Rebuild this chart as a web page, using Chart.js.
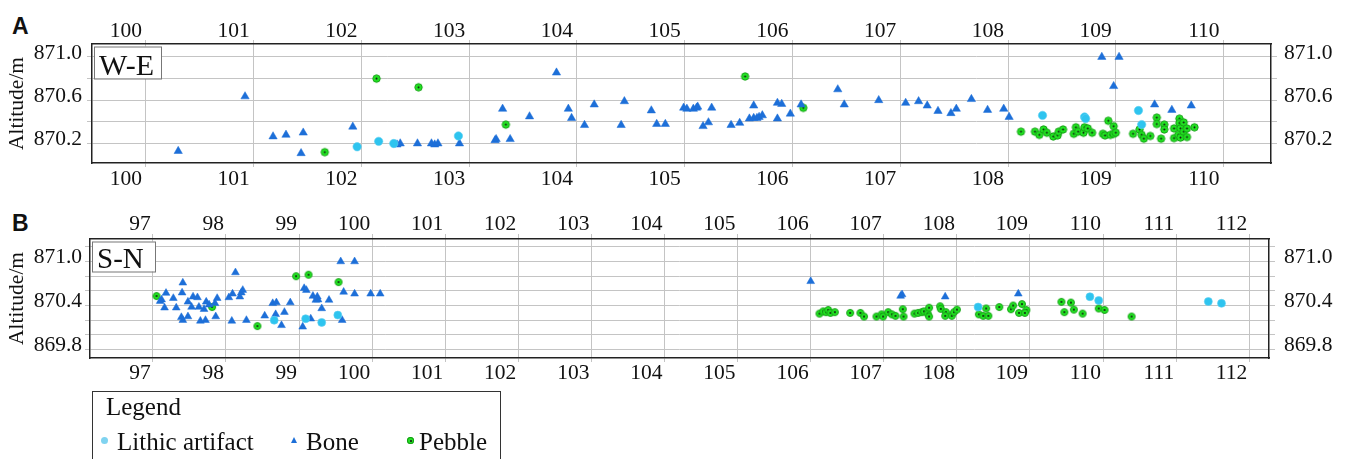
<!DOCTYPE html>
<html>
<head>
<meta charset="utf-8">
<script src="https://cdn.jsdelivr.net/npm/chart.js@4/dist/chart.umd.min.js"></script>
<style>
  body { margin: 0; background: #fff; width: 1347px; height: 459px; overflow: hidden; position: relative; }
  canvas { position: absolute; left: 0; }
  .tag { position: absolute; font: bold 23px "Liberation Sans", Arial, sans-serif; color: #111; line-height: 1; }
  #legend { position: absolute; left: 92px; top: 391px; width: 409px; height: 90px; border: 1px solid #333; box-sizing: border-box; font: 25px "Liberation Serif", serif; color: #111; }
  #legend span { position: absolute; line-height: 1; white-space: nowrap; }
  #legend .dot { width: 7px; height: 7px; border-radius: 50%; }
  #legend .lith { background: #7fd3f0; }
  #legend .peb { background: #26e126; box-shadow: inset 0 0 0 1px #149a14; }
  #legend .peb::after { content: ''; position: absolute; left: 2.5px; top: 2.5px; width: 2px; height: 2px; border-radius: 50%; background: #111; }
  #legend .tri { width: 0; height: 0; border-left: 3.5px solid transparent; border-right: 3.5px solid transparent; border-bottom: 6px solid #1d6fd8; }
</style>
</head>
<body>
<div class="tag" style="left:12px;top:15px">A</div>
<div class="tag" style="left:12px;top:212px">B</div>
<canvas id="we" width="1347" height="200" style="top:0"></canvas>
<canvas id="sn" width="1347" height="200" style="top:200px"></canvas>
<div id="legend">
  <span style="left:13px;top:2px">Legend</span>
  <span class="dot lith" style="left:8px;top:45px"></span>
  <span style="left:24px;top:37px">Lithic artifact</span>
  <span class="tri" style="left:198px;top:45px"></span>
  <span style="left:213px;top:37px">Bone</span>
  <span class="dot peb" style="left:314px;top:45px"></span>
  <span style="left:326px;top:37px">Pebble</span>
</div>
<script>
// W-E profile (panel A): distance along the section vs altitude
const xTicksWE = [100, 101, 102, 103, 104, 105, 106, 107, 108, 109, 110];
const yGridWE = [870.2, 870.4, 870.6, 870.8, 871.0];
const yLabelsWE = [870.2, 870.6, 871.0];

const lithicWE = [[101.96, 870.17], [102.16, 870.22], [102.30, 870.20], [102.90, 870.27], [108.32, 870.46],
  [108.71, 870.445], [108.72, 870.43], [109.21, 870.505], [109.24, 870.375]];

const boneWE = [[100.30, 870.13], [100.92, 870.635], [101.18, 870.265], [101.30, 870.28], [101.46, 870.30],
  [101.44, 870.11], [101.92, 870.355], [102.33, 870.19], [102.36, 870.20], [102.52, 870.20], [102.65, 870.20],
  [102.68, 870.19], [102.71, 870.20], [102.91, 870.20], [103.24, 870.23], [103.25, 870.24], [103.31, 870.52],
  [103.38, 870.24], [103.56, 870.45], [103.81, 870.855], [103.92, 870.52], [103.95, 870.435], [104.07, 870.37],
  [104.16, 870.56], [104.41, 870.37], [104.44, 870.59], [104.69, 870.505], [104.74, 870.38], [104.82, 870.38],
  [104.99, 870.53], [105.02, 870.52], [105.08, 870.52], [105.11, 870.53], [105.12, 870.54], [105.17, 870.36],
  [105.22, 870.395], [105.25, 870.53], [105.43, 870.37], [105.51, 870.39], [105.60, 870.43], [105.64, 870.435],
  [105.67, 870.435], [105.69, 870.445], [105.72, 870.46], [105.64, 870.55], [105.86, 870.575], [105.90, 870.565],
  [105.86, 870.43], [105.98, 870.475], [106.08, 870.56], [106.42, 870.70], [106.48, 870.56], [106.80, 870.60],
  [107.05, 870.575], [107.17, 870.59], [107.25, 870.55], [107.35, 870.50], [107.47, 870.48], [107.52, 870.52],
  [107.66, 870.61], [107.81, 870.51], [107.96, 870.52], [108.01, 870.445], [108.87, 871.0], [109.03, 871.0],
  [108.98, 870.73], [109.36, 870.56], [109.52, 870.51], [109.70, 870.55]];

const pebbleWE = [[101.66, 870.12], [102.14, 870.80], [102.53, 870.72], [103.34, 870.375], [105.56, 870.82],
  [106.10, 870.53], [108.12, 870.31], [108.25, 870.31], [108.29, 870.28], [108.33, 870.33], [108.36, 870.30],
  [108.42, 870.265], [108.46, 870.275], [108.47, 870.31], [108.51, 870.33], [108.61, 870.29], [108.63, 870.35],
  [108.65, 870.31], [108.70, 870.30], [108.71, 870.35], [108.74, 870.34], [108.78, 870.30], [108.88, 870.29],
  [108.90, 870.275], [108.93, 870.41], [108.95, 870.28], [108.98, 870.36], [108.98, 870.29], [109.00, 870.30],
  [109.16, 870.29], [109.22, 870.33], [109.24, 870.28], [109.26, 870.245], [109.32, 870.27], [109.38, 870.44],
  [109.38, 870.38], [109.42, 870.245], [109.45, 870.375], [109.45, 870.33], [109.54, 870.34], [109.54, 870.25],
  [109.59, 870.43], [109.59, 870.39], [109.60, 870.34], [109.58, 870.28], [109.60, 870.255], [109.63, 870.395],
  [109.63, 870.31], [109.66, 870.34], [109.66, 870.26], [109.73, 870.35]];

// S-N profile (panel B)
const xTicksSN = [97, 98, 99, 100, 101, 102, 103, 104, 105, 106, 107, 108, 109, 110, 111, 112];
const yGridSN = [869.8, 870.0, 870.2, 870.4, 870.6, 870.8, 871.0, 871.2];
const yLabelsSN = [869.8, 870.4, 871.0];

const lithicSN = [[98.66, 870.20], [99.09, 870.22], [99.31, 870.17], [99.53, 870.27], [108.29, 870.38],
  [109.82, 870.52], [109.94, 870.47], [111.44, 870.455], [111.62, 870.43]];

const boneSN = [[97.12, 870.48], [97.10, 870.46], [97.18, 870.57], [97.28, 870.50], [97.16, 870.37],
  [97.32, 870.37], [97.41, 870.71], [97.40, 870.575], [97.48, 870.45], [97.55, 870.52], [97.61, 870.51],
  [97.53, 870.38], [97.63, 870.38], [97.39, 870.24], [97.41, 870.20], [97.48, 870.25], [97.65, 870.19],
  [97.72, 870.20], [97.70, 870.35], [97.73, 870.45], [97.77, 870.41], [97.85, 870.43], [97.88, 870.50],
  [97.86, 870.25], [98.04, 870.51], [98.09, 870.56], [98.13, 870.85], [98.19, 870.52], [98.21, 870.575],
  [98.23, 870.61], [98.08, 870.19], [98.28, 870.20], [98.53, 870.26], [98.64, 870.43], [98.69, 870.44],
  [98.68, 870.28], [98.80, 870.31], [98.76, 870.13], [98.88, 870.44], [99.05, 870.11], [99.07, 870.635],
  [99.10, 870.61], [99.19, 870.53], [99.25, 870.52], [99.26, 870.48], [99.23, 870.475], [99.16, 870.22],
  [99.31, 870.36], [99.41, 870.475], [99.57, 871.0], [99.76, 871.0], [99.61, 870.585], [99.76, 870.56],
  [99.98, 870.56], [100.11, 870.56], [99.59, 870.20], [106.00, 870.73], [107.23, 870.53], [107.25, 870.55],
  [107.84, 870.52], [108.84, 870.56]];

const pebbleSN = [[97.05, 870.53], [97.81, 870.38], [98.43, 870.12], [98.96, 870.80], [99.13, 870.82],
  [99.54, 870.72], [106.12, 870.29], [106.17, 870.32], [106.21, 870.31], [106.24, 870.34], [106.27, 870.30],
  [106.33, 870.31], [106.54, 870.30], [106.68, 870.30], [106.73, 870.25], [106.90, 870.25], [106.97, 870.28],
  [106.99, 870.25], [107.06, 870.31], [107.11, 870.28], [107.16, 870.26], [107.26, 870.35], [107.27, 870.25],
  [107.42, 870.29], [107.47, 870.30], [107.52, 870.31], [107.55, 870.32], [107.60, 870.29], [107.62, 870.37],
  [107.62, 870.25], [107.77, 870.39], [107.78, 870.355], [107.85, 870.31], [107.84, 870.26], [107.93, 870.26],
  [107.96, 870.31], [108.00, 870.345], [108.40, 870.36], [108.30, 870.28], [108.36, 870.26], [108.43, 870.26],
  [108.58, 870.38], [108.74, 870.35], [108.77, 870.40], [108.85, 870.30], [108.89, 870.42], [108.95, 870.34],
  [108.93, 870.30], [109.43, 870.45], [109.56, 870.44], [109.47, 870.31], [109.60, 870.345], [109.72, 870.29],
  [109.94, 870.36], [110.02, 870.34], [110.39, 870.25]];

const SERIF = 'Liberation Serif';
const LITHIC = '#2ec4ef';
const BONE = '#1d6fd8';

// green pebble marker with a dark centre dot
function pebbleMark(r) {
  const c = document.createElement('canvas');
  const s = Math.ceil(r * 2 + 3);
  c.width = c.height = s;
  const g = c.getContext('2d');
  g.beginPath();
  g.arc(s / 2, s / 2, r, 0, Math.PI * 2);
  g.fillStyle = '#22e422';
  g.fill();
  g.lineWidth = 1;
  g.strokeStyle = '#18a018';
  g.stroke();
  g.beginPath();
  g.arc(s / 2, s / 2, 1, 0, Math.PI * 2);
  g.fillStyle = '#111';
  g.fill();
  return c;
}

// boxed profile name in the upper-left corner of the plot
const profileTag = {
  id: 'profileTag',
  afterDraw(chart, args, o) {
    const { ctx, chartArea } = chart;
    ctx.save();
    ctx.font = o.size + 'px "' + SERIF + '"';
    const x = chartArea.left + 2, y = chartArea.top + 2.5;
    ctx.fillStyle = '#fff';
    ctx.fillRect(x, y, o.w, o.h);
    ctx.strokeStyle = '#777';
    ctx.lineWidth = 1;
    ctx.strokeRect(x + 0.5, y + 0.5, o.w, o.h);
    ctx.fillStyle = '#111';
    ctx.textBaseline = 'alphabetic';
    ctx.fillText(o.text, x + 5, y + o.h - 3.5);
    ctx.restore();
  }
};

const pts = arr => arr.map(([x, y]) => ({ x, y }));

function panel(id, c) {
  const tickFont = { family: SERIF, size: 21.5, lineHeight: 1 };
  const fit = size => s => { if (s.isHorizontal()) s.height = size; else s.width = size; };
  const useTicks = vals => s => { s.ticks = vals.map(v => ({ value: v })); };
  const yLabel = v => c.yLabels.some(l => Math.abs(l - v) < 1e-6) ? v.toFixed(1) : '';
  const border = { color: '#222', width: 1.5 };

  const xAxis = (pos, main, a) => ({
    type: 'linear', position: pos, min: c.xMin, max: c.xMax,
    afterBuildTicks: useTicks(c.xTicks), afterFit: fit(a.size),
    grid: { color: '#c4c4c4', tickLength: a.tl, drawOnChartArea: main },
    border,
    ticks: { font: tickFont, color: '#111', padding: a.pad, align: 'end', labelOffset: c.xShift,
      maxRotation: 0, autoSkip: false, callback: v => String(v) }
  });
  const yAxis = (pos, main, a) => ({
    type: 'linear', position: pos, min: c.yMin, max: c.yMax,
    afterBuildTicks: useTicks(c.yGrid), afterFit: fit(a.size),
    grid: { color: '#c4c4c4', tickLength: a.tl, drawOnChartArea: main },
    border,
    title: main ? { display: true, text: 'Altitude/m', color: '#111',
      font: { family: SERIF, size: 21.5 }, padding: { top: 4, bottom: 0 } } : { display: false },
    ticks: { font: tickFont, color: '#111', padding: a.pad, labelOffset: c.yShift,
      autoSkip: false, callback: yLabel }
  });

  return new Chart(document.getElementById(id), {
    type: 'scatter',
    data: {
      datasets: [
        { label: 'Lithic artifact', data: pts(c.lithic), pointStyle: 'circle', pointRadius: c.r.lithic,
          backgroundColor: LITHIC, borderColor: '#5fd0f2', borderWidth: 0.6 },
        { label: 'Bone', data: pts(c.bone), pointStyle: 'triangle', pointRadius: c.r.bone,
          backgroundColor: BONE, borderColor: BONE, borderWidth: 0.5 },
        { label: 'Pebble', data: pts(c.pebble), pointStyle: pebbleMark(c.r.pebble), pointRadius: c.r.pebble }
      ]
    },
    options: {
      responsive: false,
      animation: false,
      events: [],
      layout: { padding: 0 },
      plugins: { legend: { display: false }, tooltip: { enabled: false }, profileTag: c.tag },
      scales: {
        x: xAxis('bottom', true, c.bottom),
        x2: xAxis('top', false, c.top),
        y: yAxis('left', true, c.left),
        y2: yAxis('right', false, c.right)
      }
    },
    plugins: [profileTag]
  });
}

panel('we', {
  xTicks: xTicksWE, yGrid: yGridWE, yLabels: yLabelsWE,
  xMin: 99.5, xMax: 110.44, yMin: 870.02, yMax: 871.12,
  lithic: lithicWE, bone: boneWE, pebble: pebbleWE,
  r: { lithic: 4.2, bone: 4.8, pebble: 3.7 },
  xShift: -4, yShift: -4,
  top: { size: 44, tl: 4, pad: -2 },
  bottom: { size: 37, tl: 4, pad: 2 },
  left: { size: 92, tl: 5, pad: 5 },
  right: { size: 76, tl: 6, pad: 7 },
  tag: { text: 'W-E', size: 30, w: 67, h: 32 }
});

panel('sn', {
  xTicks: xTicksSN, yGrid: yGridSN, yLabels: yLabelsSN,
  xMin: 96.14, xMax: 112.27, yMin: 869.685, yMax: 871.307,
  lithic: lithicSN, bone: boneSN, pebble: pebbleSN,
  r: { lithic: 4, bone: 4.5, pebble: 3.5 },
  xShift: -2, yShift: -4,
  top: { size: 39, tl: 5, pad: -1 },
  bottom: { size: 42, tl: 4, pad: 1 },
  left: { size: 90, tl: 5, pad: 3 },
  right: { size: 78, tl: 6, pad: 9 },
  tag: { text: 'S-N', size: 29, w: 63, h: 30 }
});
</script>
</body>
</html>
